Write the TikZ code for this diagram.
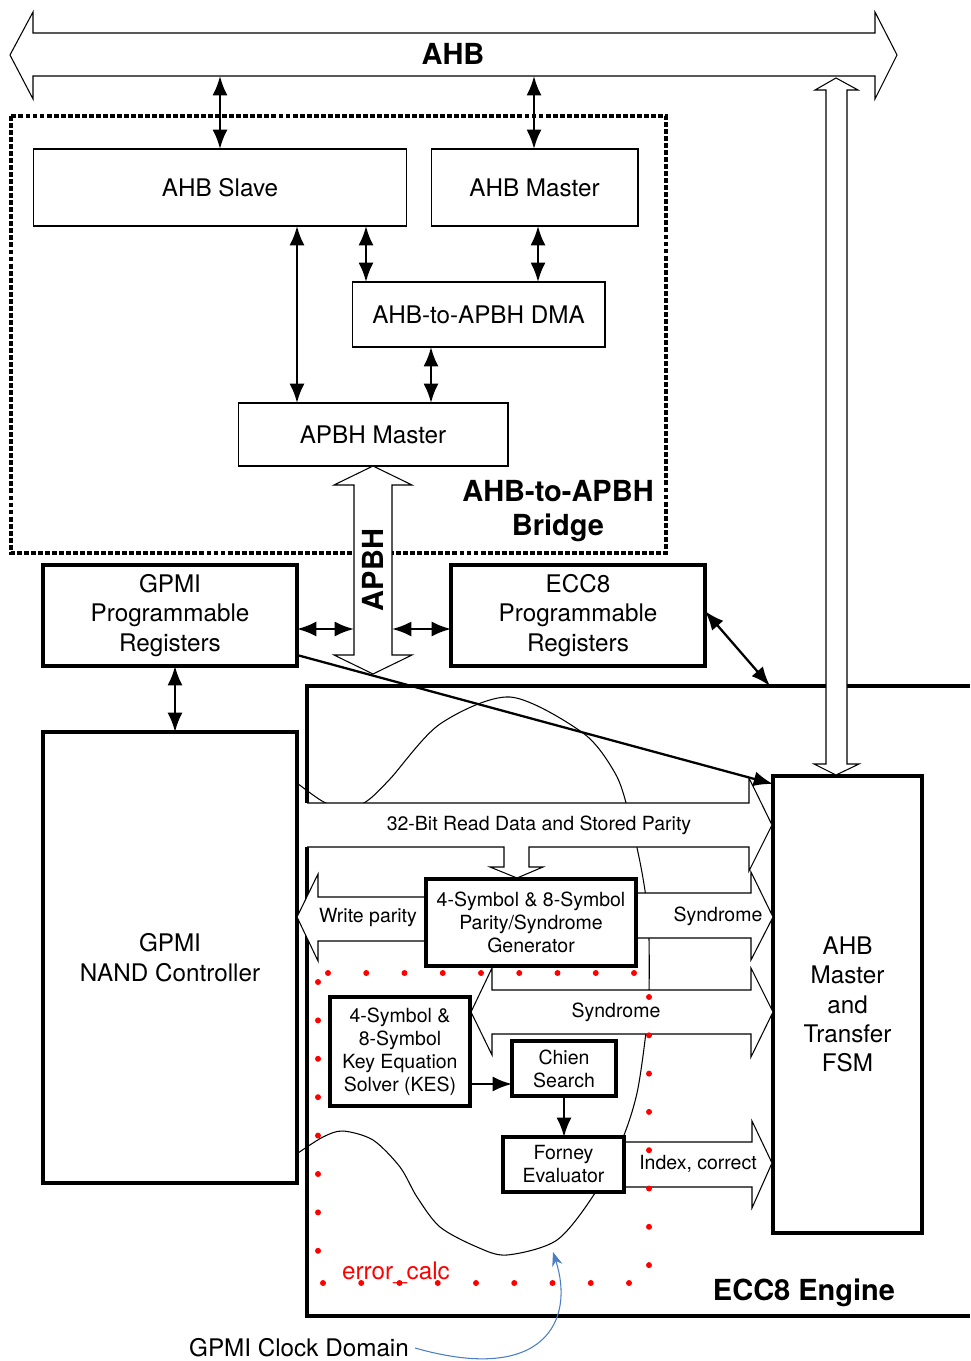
\documentclass[tikz,border=0pt]{standalone}
\usepackage{fontspec}
\setmainfont{TeX Gyre Heros}
\usetikzlibrary{arrows.meta}
\definecolor{clkblue}{RGB}{74,126,193}

\begin{document}
\begin{tikzpicture}[x=0.02cm, y=-0.02cm, line join=miter,
  >={Latex[length=11pt,width=8.5pt]},
  txt/.style={font=\fontsize{13.8}{16.7}\selectfont},
  sml/.style={font=\fontsize{11.1}{13.1}\selectfont},
  big/.style={font=\bfseries\fontsize{16.5}{19.8}\selectfont},
  box/.style={draw, line width=0.6pt, fill=white, inner sep=0pt, outer sep=0pt, align=center, txt},
  tbox/.style={box, line width=2pt},
  sbox/.style={tbox, sml},
  wire/.style={line width=1.3pt},
  hollow/.style={draw, line width=0.6pt, fill=white},
  edge/.style={line width=2pt}]
\useasboundingbox (0,0) rectangle (970,1361);

% AHB bus
\path[hollow] (33,33) -- (875,33) -- (875,12) -- (897,55) -- (875,99) -- (875,76)
  -- (33,76) -- (33,99) -- (10,55) -- (33,12) -- cycle;
\node[big] (ahb) at (453,54) {AHB};
\path (220,76) coordinate (ahbS) (534,76) coordinate (ahbM);

% bridge
\draw[line width=2pt, dash pattern=on 2.8pt off 1.2pt] (11,116) rectangle (666,553);
\node[big, align=center] (bridge) at (558,511) {AHB-to-APBH\\Bridge};

\node[box, minimum width=7.48cm, minimum height=1.54cm] (slave) at (220,187.5) {AHB Slave};
\node[box, minimum width=4.14cm, minimum height=1.54cm] (master) at (534.5,187.5) {AHB Master};
\node[box, minimum width=5.06cm, minimum height=1.30cm] (dma) at (478.5,314.5) {AHB-to-APBH DMA};
\node[box, minimum width=5.40cm, minimum height=1.26cm] (apbhm) at (373,434.5) {APBH Master};

\draw[wire, <->] (ahbS) -- (slave.north);
\draw[wire, <->] (ahbM) -- (master.north -| ahbM);
\draw[wire, <->] (slave.south -| 297,0) -- (apbhm.north -| 297,0);
\draw[wire, <->] (slave.south -| 366,0) -- (dma.north -| 366,0);
\draw[wire, <->] (master.south -| 538,0) -- (dma.north -| 538,0);
\draw[wire, <->] (dma.south -| 431,0) -- (apbhm.north -| 431,0);

% register boxes
\node[tbox, minimum width=5.08cm, minimum height=2.02cm] (gpmireg) at (170,615.5)
  {GPMI\\Programmable\\Registers};
\node[tbox, minimum width=5.08cm, minimum height=2.02cm] (eccreg) at (578,615.5)
  {ECC8\\Programmable\\Registers};
\node[tbox, minimum width=5.08cm, minimum height=9.02cm] (nand) at (170,957.5)
  {GPMI\\NAND Controller};
\node[tbox, minimum width=2.98cm, minimum height=9.14cm] (fsm) at (847.5,1004.5)
  {AHB\\Master\\and\\Transfer\\FSM};

% ECC8 engine
\draw[edge] (970,686) -- (307,686) -- (307,803);
\draw[edge] (307,847) -- (307,1316) -- (970,1316);
\node[big] (ecc) at (804,1293) {ECC8 Engine};
\coordinate (eccT) at (770,686);

% clock domain boundary
\draw[line width=0.6pt] plot[smooth] coordinates {(297,783) (322,801) (345,810) (367,801)
  (390,779) (440,724) (510,697) (583,733) (615,773) (628,810) (640,862) (647,905)
  (649,940) (649,990) (646,1032) (637,1093) (622,1140) (595,1193) (557,1240)
  (507,1255) (477,1247) (440,1227) (417,1197) (400,1167) (373,1140) (343,1131)
  (323,1137) (298,1153)};

% data paths
\fill[white] (307,803) -- (749,803) -- (749,778) -- (772,825) -- (749,871) -- (749,847)
  -- (529,847) -- (529,867) -- (543,867) -- (517,878) -- (490,867) -- (504,867)
  -- (504,847) -- (307,847) -- cycle;
\draw[line width=0.6pt] (307,803) -- (749,803) -- (749,778) -- (772,825) -- (749,871)
  -- (749,847) -- (529,847) -- (529,867) -- (543,867) -- (517,878) -- (490,867)
  -- (504,867) -- (504,847) -- (307,847);
\node[sml] (rd) at (539,825) {32-Bit Read Data and Stored Parity};

\path[hollow] (426,897) -- (318,897) -- (318,874) -- (297,917) -- (318,961) -- (318,941)
  -- (426,941) -- cycle;
\node[sml] (wp) at (368,918) {Write parity};

\path[hollow] (636,893) -- (751,893) -- (751,872) -- (773,917) -- (751,960) -- (751,938)
  -- (636,938) -- cycle;
\node[sml] (syn1) at (718,916) {Syndrome};

\path[hollow] (492,990) -- (751,990) -- (751,968) -- (773,1012) -- (751,1057) -- (751,1034)
  -- (492,1034) -- (492,1055) -- (471,1012) -- (492,968) -- cycle;
\node[sml] (syn2) at (616,1012) {Syndrome};

\path[hollow] (624,1142) -- (752,1142) -- (752,1121) -- (772,1163) -- (752,1208) -- (752,1187)
  -- (624,1187) -- cycle;
\node[sml] (idx) at (698,1164) {Index, correct};

% ECC8 blocks
\node[sbox, minimum width=4.20cm, minimum height=1.74cm] (gen) at (531,922.5)
  {4-Symbol \& 8-Symbol\\Parity/Syndrome\\Generator};
\node[sbox, minimum width=2.80cm, minimum height=2.18cm] (kes) at (400,1051.5)
  {4-Symbol \&\\8-Symbol\\Key Equation\\Solver (KES)};
\node[sbox, minimum width=2.08cm, minimum height=1.10cm] (chien) at (564,1068.5)
  {Chien\\Search};
\node[sbox, minimum width=2.42cm, minimum height=1.10cm] (forney) at (563.5,1164.5)
  {Forney\\Evaluator};
\draw[wire, ->] (kes.east |- 0,1084) -- (chien.west |- 0,1084);
\draw[wire, ->] (chien.south) -- (forney.north -| chien.south);

% error_calc region
\foreach \i in {0,...,8} \fill[red] (328+38.25*\i,973) circle[radius=1.7pt];
\foreach \i in {0,...,7} \fill[red] (318,982+38.4*\i) circle[radius=1.7pt];
\foreach \i in {0,...,8} \fill[red] (323+38.25*\i,1283) circle[radius=1.7pt];
\foreach \i in {0,...,7} \fill[red] (649,997+38.3*\i) circle[radius=1.7pt];
\node[txt, text=red] (err) at (396,1273) {error\_calc};

% AHB <-> FSM
\path[hollow] (826,90) -- (815,90) -- (836,78) -- (858,90) -- (847,90) -- (847,764)
  -- (859,764) -- (836,775) -- (814,764) -- (826,764) -- cycle;

% APBH
\path[hollow] (354,485) -- (334,485) -- (373,466) -- (412,485) -- (392,485) -- (392,655)
  -- (412,655) -- (373,674) -- (334,655) -- (354,655) -- cycle;
\node[big, rotate=90] (apbh) at (373,570) {APBH};
\path (354,629) coordinate (apbhL) (392,629) coordinate (apbhR);

\draw[wire, <->] (gpmireg.east |- apbhL) -- (apbhL);
\draw[wire, <->] (apbhR) -- (eccreg.west |- apbhR);
\draw[wire, <->] (eccreg.east |- 0,611) -- (eccT);
\draw[wire, <->] (gpmireg.south -| 175,0) -- (nand.north -| 175,0);
\draw[wire, ->] (gpmireg.east |- 0,655) -- (fsm.west |- 0,784);

% clock domain label
\node[txt] (clk) at (299,1348) {GPMI Clock Domain};
\coordinate (clkT) at (553,1252);
\draw[clkblue, line width=0.6pt, -{Stealth[length=8pt,width=6pt]}]
  (clk.east) .. controls (545,1385) and (575,1320) .. (clkT);
\end{tikzpicture}
\end{document}
